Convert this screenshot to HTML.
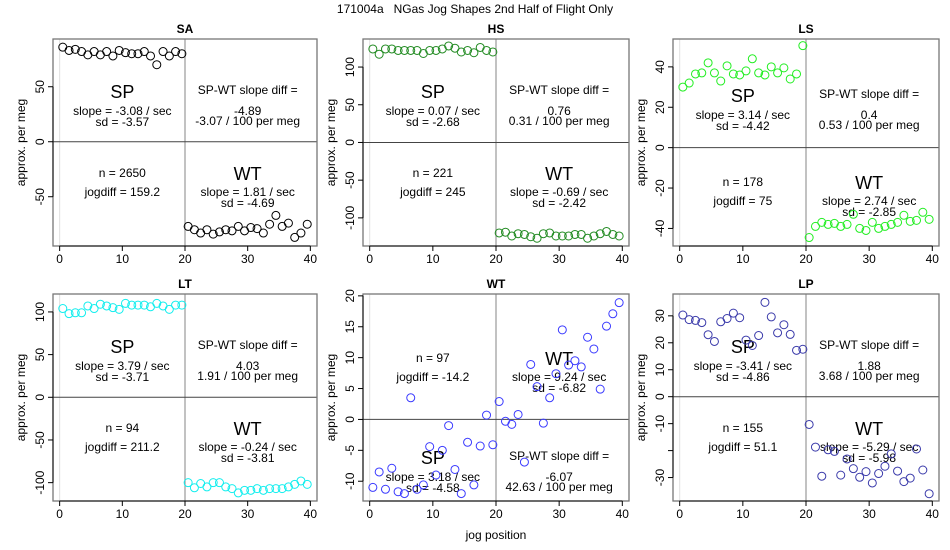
<!DOCTYPE html>
<html><head><meta charset="utf-8">
<style>
html,body{margin:0;padding:0;background:#fff;}
svg{display:block;font-family:"Liberation Sans",Arial,sans-serif;}
</style></head>
<body>
<svg id="chart" width="950" height="550" viewBox="0 0 950 550" xmlns="http://www.w3.org/2000/svg">
<text x="475" y="13" font-size="12" text-anchor="middle" xml:space="preserve">171004a   NGas Jog Shapes 2nd Half of Flight Only</text>
<text x="496" y="539" font-size="12" text-anchor="middle">jog position</text>
</svg>
<script>
const jogSP = [0.5,1.5,2.5,3.5,4.5,5.5,6.5,7.5,8.5,9.5,10.5,11.5,12.5,13.5,14.5,15.5,16.5,17.5,18.5,19.5];
const jogWT = [20.5,21.5,22.5,23.5,24.5,25.5,26.5,27.5,28.5,29.5,30.5,31.5,32.5,33.5,34.5,35.5,36.5,37.5,38.5,39.5];
const xTicks = [0,10,20,30,40];

const saSP = [86,83,84,82,79,82,79,82,78,83,81,80,80,82,78,70,82,78,82,80];
const saWT = [-77,-80,-83,-80,-84,-82,-80,-81,-77,-81,-78,-79,-83,-75,-67,-77,-74,-87,-83,-75];
const hsSP = [124,117,124,124,122,122,122,122,118,122,122,124,128,125,120,122,119,126,122,120];
const hsWT = [-120,-119,-124,-121,-122,-125,-127,-121,-120,-124,-124,-124,-122,-122,-127,-124,-121,-118,-122,-124];
const lsSP = [30,32,36.5,37,42,37,33,40.5,36.5,36,38,44,37,36,40,37,39.5,34,36.5,50.5];
const lsWT = [-44.5,-39,-37,-38,-37.5,-39,-38,-33,-40,-41,-37,-40,-39,-38,-37,-33.5,-36.5,-36,-32,-35.5];
const ltSP = [104,98,99,99,107,104,109,107,105,103,110,108,108,108,106,110,107,103,108,108];
const ltWT = [-100,-106,-101,-105,-100,-100,-105,-107,-112,-109,-109,-107,-109,-107,-107,-107,-105,-102,-98,-102];
const wtSP = [-11,-8.5,-11.3,-7.9,-11.7,-12,3.5,-11.3,-10.6,-4.4,-9,-5,-1,-8.1,-12,-3.7,-10.6,-4.3,0.7,-4.1];
const wtWT = [2.9,-0.3,-0.8,0.8,-6.9,8.9,5.3,-0.6,3.5,7.4,14.5,8.8,9.5,8.5,13.3,11.4,4.9,15.1,17.1,18.9];
const lpSP = [30.3,28.6,28.3,27.5,23,20.5,27.8,29,31,29.3,21,19,22.7,35,29.6,23.7,26.7,23.1,17.2,17.6];
const lpWT = [-10.3,-18.7,-29.5,-19.7,-20.3,-29.1,-23.1,-26.7,-29.9,-27.8,-32,-28.5,-25.8,-21.2,-27.6,-31.5,-30.2,-19.4,-27.2,-36];

const saTicks = [-50,0,50];
const hsTicks = [-100,-50,0,50,100];
const lsTicks = [-40,-20,0,20,40];
const ltTicks = [-100,-50,0,50,100];
const wtTicks = [-10,-5,0,5,10,15,20];
const lpTicks = [-30,-20,-10,0,10,20,30];
const lpTickLabels = ['-30','','-10','0','10','20','30'];

const saText = ['-3.08','-3.57','-4.89','-3.07','2650','159.2','1.81','-4.69'];
const hsText = ['0.07','-2.68','0.76','0.31','221','245','-0.69','-2.42'];
const lsText = ['3.14','-4.42','0.4','0.53','178','75','2.74','-2.85'];
const ltText = ['3.79','-3.71','4.03','1.91','94','211.2','-0.24','-3.81'];
const wtText = ['3.18','-4.58','-6.07','42.63','97','-14.2','9.24','-6.82'];
const lpText = ['-3.41','-4.86','1.88','3.68','155','51.1','-5.29','-5.98'];

const NS = 'http://www.w3.org/2000/svg';
const svg = document.getElementById('chart');
function mk(tag, attrs, parent){const e=document.createElementNS(NS,tag);for(const k in attrs)e.setAttribute(k,attrs[k]);(parent||svg).appendChild(e);return e;}

const panels = [
 {key:'sa',title:'SA',L:53,R:317,T:39,B:246,ylim:[-94.8,93.4],sp:saSP,wt:saWT,ticks:saTicks,labels:null,col:'#000000',txt:saText,layout:'top',up:0,lo:0},
 {key:'hs',title:'HS',L:363,R:629,T:39,B:246,ylim:[-137.3,137.2],sp:hsSP,wt:hsWT,ticks:hsTicks,labels:null,col:'#228b22',txt:hsText,layout:'top',up:0,lo:0},
 {key:'ls',title:'LS',L:673,R:939,T:39,B:246,ylim:[-48.7,53.8],sp:lsSP,wt:lsWT,ticks:lsTicks,labels:null,col:'#22ee22',txt:lsText,layout:'top',up:4,lo:9},
 {key:'lt',title:'LT',L:53,R:317,T:294,B:501,ylim:[-121.5,121],sp:ltSP,wt:ltWT,ticks:ltTicks,labels:null,col:'#11eeee',txt:ltText,layout:'top',up:0,lo:0},
 {key:'wt',title:'WT',L:363,R:629,T:294,B:501,ylim:[-13.2,20.3],sp:wtSP,wt:wtWT,ticks:wtTicks,labels:null,col:'#3a3aff',txt:wtText,layout:'swap',up:0,lo:0},
 {key:'lp',title:'LP',L:673,R:939,T:294,B:501,ylim:[-38.7,38.1],sp:lpSP,wt:lpWT,ticks:lpTicks,labels:lpTickLabels,col:'#3a3aaa',txt:lpText,layout:'top',up:0,lo:0}
];

panels.forEach(p=>{
 const g = mk('g',{});
 
 
 const xs = v => p.L + (v - (-1.06)) / (41.06 - (-1.06)) * (p.R - p.L);
 const ys = v => p.B - (v - p.ylim[0]) / (p.ylim[1] - p.ylim[0]) * (p.B - p.T);
 const t = mk('text',{x:(p.L+p.R)/2,y:p.T-6,'font-size':12,'font-weight':'bold','text-anchor':'middle'},g);
 t.textContent = p.title;
 
 
 mk('line',{x1:xs(0),x2:xs(0),y1:p.T,y2:p.B,stroke:'#e0e0e0','stroke-width':1},g);
 const vl = mk('line',{x1:xs(20),x2:xs(20),y1:p.T,y2:p.B,stroke:'#999','stroke-width':1.2},g);
 
 
 const hl = mk('line',{x1:p.L,x2:p.R,y1:ys(0),y2:ys(0),stroke:'#444','stroke-width':1},g);
 
 
 const box = mk('rect',{x:p.L,y:p.T,width:p.R-p.L,height:p.B-p.T,fill:'none',stroke:'#777','stroke-width':1.3},g);
 
 
 xTicks.forEach(v=>{
  mk('line',{x1:xs(v),x2:xs(v),y1:p.B,y2:p.B+5,stroke:'#000'},g);
  const tl = mk('text',{x:xs(v),y:p.B+17,'font-size':12,'text-anchor':'middle'},g);
  tl.textContent = v;
  
  
 });
 mk('line',{x1:xs(0),x2:xs(40),y1:p.B,y2:p.B,stroke:'#000'},g);
 p.ticks.forEach((v,i)=>{
  mk('line',{x1:p.L-5,x2:p.L,y1:ys(v),y2:ys(v),stroke:'#000'},g);
  const lab = p.labels ? p.labels[i] : String(v);
  const tx = p.L-9, ty = ys(v);
  const tl = mk('text',{x:tx,y:ty,'font-size':12,'text-anchor':'middle',transform:'rotate(-90 '+tx+' '+ty+')'},g);
  tl.textContent = lab;
  
  
 });
 mk('line',{x1:p.L,x2:p.L,y1:ys(p.ticks[0]),y2:ys(p.ticks[p.ticks.length-1]),stroke:'#000'},g);
 const ax = p.L-28, ay = (p.T+p.B)/2;
 const yt = mk('text',{x:ax,y:ay,'font-size':12,'text-anchor':'middle',transform:'rotate(-90 '+ax+' '+ay+')'},g);
 yt.textContent = 'approx. per meg';
 
 
 const d = p.txt;
 const xl = xs(10), xr = xs(30);
 function tx(x,y,s,size,name){const e=mk('text',{x:x,y:y,'font-size':size,'text-anchor':'middle'},g);e.textContent=s;return e;}
 let spY, ulY, nY, wtY;
 if(p.layout==='top'){ spY=p.T+52+p.up; ulY=p.T+51+p.up; nY=p.T+134+p.lo; wtY=p.T+134+p.lo; }
 else { spY=p.T+163; ulY=p.T+162; nY=p.T+64; wtY=p.T+64; }
 tx(xl,spY+7,'SP',18,'sp-label');
 tx(xl,spY+24,'slope = '+d[0]+' / sec',12,'sp-slope');
 tx(xl,spY+35,'sd = '+d[1],12,'sp-sd');
 tx(xr,ulY+4,'SP-WT slope diff =',12,'slope-diff-label');
 tx(xr,ulY+25,d[2],12,'slope-diff-value');
 tx(xr,ulY+35,d[3]+' / 100 per meg',12,'slope-diff-per-meg');
 tx(xl,nY+4,'n = '+d[4],12,'n-count');
 tx(xl,nY+23,'jogdiff = '+d[5],12,'jogdiff');
 tx(xr,wtY+7,'WT',18,'wt-label');
 tx(xr,wtY+23,'slope = '+d[6]+' / sec',12,'wt-slope');
 tx(xr,wtY+34,'sd = '+d[7],12,'wt-sd');
 p.sp.forEach((v,i)=>{
  const c = mk('circle',{cx:xs(jogSP[i]),cy:ys(v),r:4,fill:'none',stroke:p.col,'stroke-width':1},g);
  
  
 });
 p.wt.forEach((v,i)=>{
  const c = mk('circle',{cx:xs(jogWT[i]),cy:ys(v),r:4,fill:'none',stroke:p.col,'stroke-width':1},g);
  
  
 });
});
</script>
</body></html>
